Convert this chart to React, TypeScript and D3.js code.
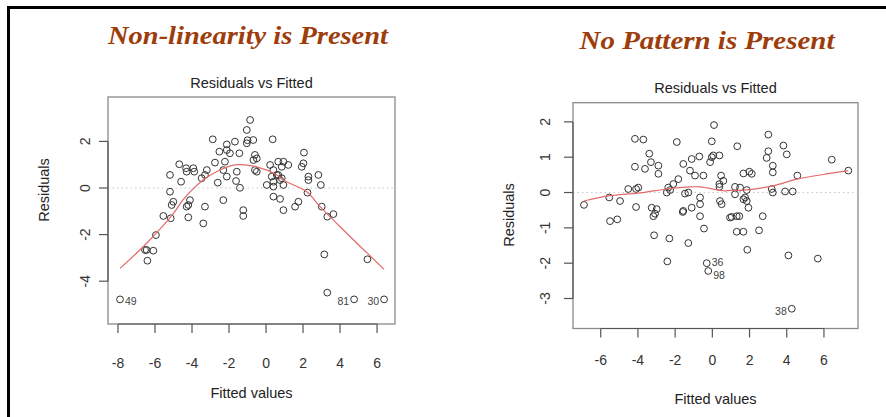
import React from 'react';
import * as d3 from 'd3';

// ---------- Left panel data (non-linear) ----------
const leftFitted = [
  -0.86, -1.04, -2.88, -2.12, -1.68, -1.0, -0.69, -1.04, 0.36, -2.52,
  -1.95, -1.44, -2.12, -0.6, -0.5, -0.68, -4.69, -4.32, -3.93, -4.29,
  -3.88, -2.76, -2.22, -3.2, -3.48, -3.3, -2.31, -1.58, -2.12, -5.19,
  -4.59, -2.61, -1.62, -1.41, 0.04, 0.4, 0.4, 0.22, 0.4, 0.66,
  -5.19, -2.31, -3.3, -5.01, -4.11, -4.2, -4.29, -1.23, 2.05, 0.66,
  0.94, 1.2, 0.85, 2.02, 1.93, -0.6, -0.5, 0.31, 0.58, 0.76,
  0.85, 2.29, 2.29, 2.83, 2.96, 0.94, 2.24, 0.4, 0.76, 1.75,
  1.57, 3.01, 0.94, -5.1, -1.23, -5.55, -5.15, -4.2, -3.39, -5.95,
  -6.54, -6.45, -6.09, -6.41, -7.89, 3.31, 3.64, 3.15, 5.48, 3.31,
  4.76, 6.38,
];
const leftResid = [
  2.92, 2.49, 2.09, 1.87, 1.99, 2.05, 2.06, 1.92, 2.09, 1.56,
  1.49, 1.49, 1.63, 1.42, 1.27, 1.2, 1.02, 0.85, 0.85, 0.7,
  0.7, 1.09, 1.13, 0.77, 0.42, 0.56, 0.77, 0.7, 0.49, 0.56,
  0.27, 0.23, 0.3, 0.01, 0.13, 0.27, 0.06, 0.99, 0.77, 0.56,
  -0.16, -0.52, -0.8, -0.59, -0.52, -0.73, -0.8, -0.95, 1.52, 1.13,
  1.13, 0.99, 0.91, 1.06, 0.91, 0.77, 0.7, 0.49, 0.56, 0.34,
  0.42, 0.49, 0.34, 0.56, 0.13, 0.13, -0.2, -0.37, -0.47, -0.59,
  -0.8, -0.8, -0.95, -0.73, -1.2, -1.2, -1.3, -1.26, -1.52, -2.02,
  -2.66, -2.66, -2.69, -3.12, -4.78, -1.23, -1.12, -2.85, -3.06, -4.49,
  -4.78, -4.78,
];
const leftSmoothX = [-7.89, -6.45, -5.0, -4.5, -3.4, -2.49, -1.68, -0.5, 0.58, 0.92, 2.2, 2.92, 4.36, 6.38];
const leftSmoothY = [-3.45, -2.37, -1.09, -0.52, 0.34, 0.77, 0.99, 0.91, 0.56, 0.34, -0.16, -0.8, -1.94, -3.49];
const leftLabelX = [-7.89, 4.76, 6.38];
const leftLabelY = [-4.78, -4.78, -4.78];
const leftLabelText = ['49', '81', '30'];
const leftLabelSide = ['right', 'left', 'left'];
const leftXTicks = [-8, -6, -4, -2, 0, 2, 4, 6];
const leftYTicks = [-4, -2, 0, 2];

// ---------- Right panel data (no pattern) ----------
const rightFitted = [
  0.09, -4.16, -3.71, -1.91, -0.03, -3.39, -3.3, -2.9, -3.62, -4.16,
  -2.9, -1.56, -1.11, -0.7, -0.03, 0.05, 0.38, -0.12, -1.2, -0.93,
  -0.48, -1.83, -2.1, -2.37, 0.47, 0.59, 0.38, -2.45, -2.27, -1.29,
  -1.47, -0.66, 0.38, 0.41, 0.5, -3.98, -4.1, -4.52, -5.54, -4.96,
  -6.9, -4.1, -3.26, -2.99, -1.56, -1.11, -0.66, 1.34, 3.01, 3.82,
  4.0, 3.01, 2.92, 3.25, 3.25, 6.42, 7.31, 4.57, 1.67, 1.99,
  2.12, 1.22, 1.49, 1.85, 3.19, 3.25, 3.91, 4.32, 1.22, 1.76,
  1.85, 1.67, 1.94, -5.5, -5.11, -3.17, -3.08, -3.13, -2.31, -1.29,
  -2.42, -1.59, -0.66, -0.45, 0.95, -0.3, -0.22, 1.04, 1.31, 1.45,
  2.71, 1.31, 1.67, 2.51, 1.88, 4.09, 5.67, 4.27,
];
const rightResid = [
  1.91, 1.52, 1.5, 1.43, 1.45, 1.1, 0.86, 0.76, 0.67, 0.73,
  0.53, 0.81, 0.95, 1.02, 1.0, 1.05, 1.05, 0.86, 0.62, 0.48,
  0.48, 0.38, 0.24, 0.14, 0.48, 0.33, 0.24, 0.0, 0.07, 0.0,
  -0.03, -0.14, 0.16, -0.24, -0.33, 0.14, 0.1, 0.1, -0.14, -0.24,
  -0.35, -0.41, -0.43, -0.47, -0.52, -0.43, -0.33, 1.31, 1.64, 1.33,
  1.08, 1.17, 0.98, 0.76, 0.57, 0.93, 0.62, 0.48, 0.54, 0.59,
  0.53, 0.16, 0.14, 0.07, 0.1, 0.0, 0.03, 0.03, -0.05, -0.14,
  -0.24, -0.19, -0.43, -0.81, -0.76, -0.67, -0.6, -1.21, -1.3, -1.43,
  -1.95, -0.55, -0.67, -1.02, -0.71, -2.0, -2.22, -0.69, -0.67, -0.67,
  -0.67, -1.11, -1.11, -1.07, -1.62, -1.78, -1.87, -3.29,
];
const rightSmoothX = [-6.9, -5.5, -3.71, -2.45, -1.2, -0.66, -0.3, 0.59, 0.95, 1.67, 3.28, 4.54, 6.33, 7.31];
const rightSmoothY = [-0.24, -0.09, 0.0, 0.1, 0.16, 0.16, 0.13, 0.05, 0.06, 0.07, 0.19, 0.38, 0.54, 0.62];
const rightLabelX = [-0.3, -0.22, 4.27];
const rightLabelY = [-2.0, -2.22, -3.29];
const rightLabelText = ['36', '98', '38'];
const rightLabelSide = ['right', 'right', 'left'];
const rightLabelDy = [-1, 4, 2];
const leftLabelDy = [2, 2, 2];
const rightXTicks = [-6, -4, -2, 0, 2, 4, 6];
const rightYTicks = [-3, -2, -1, 0, 1, 2];

const SANS = '"Liberation Sans", Arial, Helvetica, sans-serif';
const SERIF = '"Liberation Serif", "DejaVu Serif", serif';

type PanelProps = {
  fitted: number[];
  resid: number[];
  smoothX: number[];
  smoothY: number[];
  labelX: number[];
  labelY: number[];
  labelText: string[];
  labelSide: string[];
  labelDy: number[];
  xTicks: number[];
  yTicks: number[];
  xDomain: [number, number];
  yDomain: [number, number];
  box: { l: number; r: number; t: number; b: number };
  heading: string;
  headingY: number;
  headingX: number;
  headingLen: number;
  titleY: number;
  xLabelY: number;
  xTickLabelY: number;
  yTickLabelX: number;
  yLabelX: number;
  yLabelY: number;
};

function Panel(p: PanelProps) {
  const x = d3.scaleLinear().domain(p.xDomain).range([p.box.l, p.box.r]);
  const y = d3.scaleLinear().domain(p.yDomain).range([p.box.b, p.box.t]);
  const line = d3
    .line<number>()
    .x((_, i) => x(p.smoothX[i]))
    .y((d) => y(d))
    .curve(d3.curveCatmullRom.alpha(0.5));
  const tickLen = 9;
  const cx = (p.box.l + p.box.r) / 2;
  const axisCol = '#555';
  return (
    <g>
      <text
        x={p.headingX}
        y={p.headingY}
        textAnchor="middle"
        fontFamily={SERIF}
        fontStyle="italic"
        fontWeight="bold"
        fontSize={25}
        fill="#9e3d0c"
        textLength={p.headingLen}
        lengthAdjust="spacingAndGlyphs"
      >
        {p.heading}
      </text>
      <text x={cx} y={p.titleY} textAnchor="middle" fontFamily={SANS} fontSize={14.5} fill="#222">
        Residuals vs Fitted
      </text>
      <rect
        x={p.box.l}
        y={p.box.t}
        width={p.box.r - p.box.l}
        height={p.box.b - p.box.t}
        fill="none"
        stroke="#8a8a8a"
        strokeWidth={1.3}
      />
      {/* zero reference line */}
      <line
        x1={p.box.l}
        x2={p.box.r}
        y1={y(0)}
        y2={y(0)}
        stroke="#c8c8c8"
        strokeWidth={1}
        strokeDasharray="1.5,3"
      />
      {/* x axis */}
      <line
        x1={x(p.xTicks[0])}
        x2={x(p.xTicks[p.xTicks.length - 1])}
        y1={p.box.b}
        y2={p.box.b}
        stroke={axisCol}
        strokeWidth={1.2}
      />
      {p.xTicks.map((t) => (
        <g key={'xt' + t}>
          <line x1={x(t)} x2={x(t)} y1={p.box.b} y2={p.box.b + tickLen} stroke={axisCol} strokeWidth={1.2} />
          <text
            x={x(t)}
            y={p.xTickLabelY}
            textAnchor="middle"
            dominantBaseline="central"
            fontFamily={SANS}
            fontSize={14}
            fill="#333"
          >
            {t}
          </text>
        </g>
      ))}
      {/* y axis */}
      <line
        x1={p.box.l}
        x2={p.box.l}
        y1={y(p.yTicks[0])}
        y2={y(p.yTicks[p.yTicks.length - 1])}
        stroke={axisCol}
        strokeWidth={1.2}
      />
      {p.yTicks.map((t) => (
        <g key={'yt' + t}>
          <line x1={p.box.l - tickLen} x2={p.box.l} y1={y(t)} y2={y(t)} stroke={axisCol} strokeWidth={1.2} />
          <text
            transform={`translate(${p.yTickLabelX},${y(t)}) rotate(-90)`}
            textAnchor="middle"
            dominantBaseline="central"
            fontFamily={SANS}
            fontSize={14}
            fill="#333"
          >
            {t}
          </text>
        </g>
      ))}
      <text x={cx} y={p.xLabelY} textAnchor="middle" dominantBaseline="central" fontFamily={SANS} fontSize={14.5} fill="#222">
        Fitted values
      </text>
      <text
        transform={`translate(${p.yLabelX},${p.yLabelY}) rotate(-90)`}
        textAnchor="middle"
        dominantBaseline="central"
        fontFamily={SANS}
        fontSize={14.5}
        fill="#222"
      >
        Residuals
      </text>
      {/* points */}
      {p.fitted.map((f, i) => (
        <circle key={'pt' + i} cx={x(f)} cy={y(p.resid[i])} r={3.4} fill="none" stroke="#333" strokeWidth={1} />
      ))}
      {/* smoother */}
      <path d={line(p.smoothY) || ''} fill="none" stroke="#e46a6a" strokeWidth={1.2} />
      {/* point labels */}
      {p.labelText.map((t, i) => (
        <text
          key={'lb' + i}
          x={x(p.labelX[i]) + (p.labelSide[i] === 'right' ? 5 : -5)}
          y={y(p.labelY[i]) + p.labelDy[i]}
          textAnchor={p.labelSide[i] === 'right' ? 'start' : 'end'}
          dominantBaseline="central"
          fontFamily={SANS}
          fontSize={10.5}
          fill="#444"
        >
          {t}
        </text>
      ))}
    </g>
  );
}

export default function App() {
  return (
    <svg
      width={886}
      height={417}
      viewBox="0 0 886 417"
      style={{ position: 'absolute', left: 0, top: 0, background: '#fff' }}
    >
      <rect x={0} y={0} width={886} height={417} fill="#fff" />
      {/* outer frame */}
      <line x1={8.5} x2={886} y1={7.5} y2={7.5} stroke="#000" strokeWidth={3} />
      <line x1={8.5} x2={8.5} y1={6} y2={417} stroke="#000" strokeWidth={3} />
      <Panel
        fitted={leftFitted}
        resid={leftResid}
        smoothX={leftSmoothX}
        smoothY={leftSmoothY}
        labelX={leftLabelX}
        labelY={leftLabelY}
        labelText={leftLabelText}
        labelSide={leftLabelSide}
        labelDy={leftLabelDy}
        xTicks={leftXTicks}
        yTicks={leftYTicks}
        xDomain={[-8.54, 6.97]}
        yDomain={[-5.837, 3.906]}
        box={{ l: 108, r: 395, t: 97, b: 324 }}
        heading="Non-linearity is Present"
        headingX={248}
        headingY={44}
        headingLen={280}
        titleY={88}
        xLabelY={393}
        xTickLabelY={363}
        yTickLabelX={85}
        yLabelX={44}
        yLabelY={190}
      />
      <Panel
        fitted={rightFitted}
        resid={rightResid}
        smoothX={rightSmoothX}
        smoothY={rightSmoothY}
        labelX={rightLabelX}
        labelY={rightLabelY}
        labelText={rightLabelText}
        labelSide={rightLabelSide}
        labelDy={rightLabelDy}
        xTicks={rightXTicks}
        yTicks={rightYTicks}
        xDomain={[-7.49, 7.83]}
        yDomain={[-3.849, 2.543]}
        box={{ l: 573, r: 858, t: 102.7, b: 328.5 }}
        heading="No Pattern is Present"
        headingX={707}
        headingY={49}
        headingLen={255}
        titleY={93}
        xLabelY={399}
        xTickLabelY={360}
        yTickLabelX={545}
        yLabelX={509}
        yLabelY={215}
      />
    </svg>
  );
}
